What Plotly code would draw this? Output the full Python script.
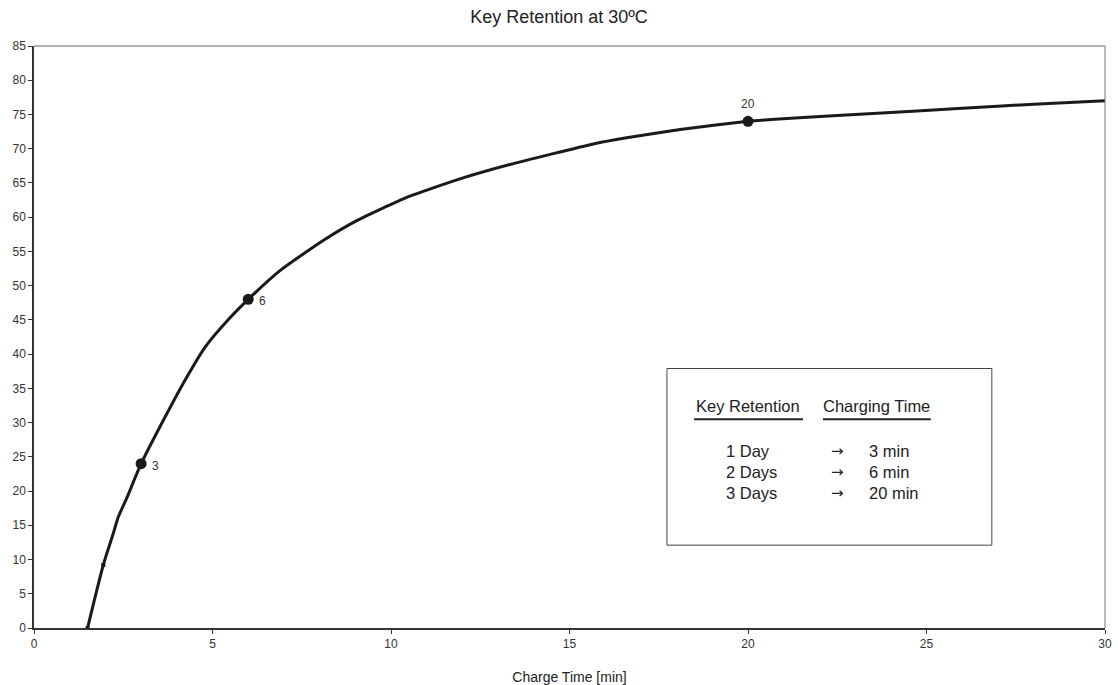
import plotly.graph_objects as go

# Curve data
charge_time = [1.5, 1.94, 2.22, 2.36, 2.6, 3.0, 3.72, 4.23, 4.79, 5.49, 6.0, 6.89, 8.1, 9.04, 10.44, 11.93, 13.33, 15.67, 16.6, 18.1, 20.0, 20.75, 23.0, 26.0, 28.0, 30.0]
retention = [0, 9.2, 13.8, 16.2, 19.0, 24, 31.3, 36.2, 41.0, 45.3, 48, 52.2, 56.6, 59.5, 62.9, 65.6, 67.7, 70.7, 71.6, 72.8, 74, 74.3, 75, 75.9, 76.5, 77]

marker_x = [3, 6, 20]
marker_y = [24, 48, 74]
marker_labels = ["3", "6", "20"]

small_x = [1.5, 1.94]
small_y = [0, 9.2]

x_ticks = [0, 5, 10, 15, 20, 25, 30]
y_ticks = list(range(0, 90, 5))

title_text = "Key Retention at 30ºC"
x_title = "Charge Time [min]"

box_headers = ["Key Retention", "Charging Time"]
box_rows = [("1 Day", "→", "3 min"), ("2 Days", "→", "6 min"), ("3 Days", "→", "20 min")]

font_family = "Liberation Sans, Arial, sans-serif"
arrow_font = "DejaVu Sans, sans-serif"

fig = go.Figure()
fig.add_trace(go.Scatter(x=charge_time, y=retention, mode="lines",
                         line=dict(color="#1a1a1a", width=3, shape="spline", smoothing=0.5),
                         hoverinfo="skip", showlegend=False))
fig.add_trace(go.Scatter(x=small_x, y=small_y, mode="markers",
                         marker=dict(color="#1a1a1a", size=4, symbol="square"),
                         showlegend=False, hoverinfo="skip"))
fig.add_trace(go.Scatter(x=marker_x, y=marker_y, mode="markers",
                         marker=dict(color="#1a1a1a", size=11),
                         showlegend=False))

# marker labels
lab_font = dict(size=12, color="#333", family=font_family)
fig.add_annotation(x=marker_x[0], y=marker_y[0], text=marker_labels[0], showarrow=False,
                   xanchor="left", yanchor="middle", xshift=9, yshift=-2, font=lab_font)
fig.add_annotation(x=marker_x[1], y=marker_y[1], text=marker_labels[1], showarrow=False,
                   xanchor="left", yanchor="middle", xshift=9, yshift=-2, font=lab_font)
fig.add_annotation(x=marker_x[2], y=marker_y[2], text=marker_labels[2], showarrow=False,
                   xanchor="center", yanchor="bottom", yshift=8, font=lab_font)

# info box
fig.add_shape(type="rect", xref="x", yref="y", x0=17.73, x1=26.83, y0=12.1, y1=37.9,
              line=dict(color="#444", width=1), fillcolor="white", layer="above")

box_font = dict(size=16.5, color="#222", family=font_family)
hdr_y = 32.4
fig.add_annotation(x=20.0, y=hdr_y, xref="x", yref="y", text=box_headers[0], showarrow=False,
                   xanchor="center", font=box_font)
fig.add_annotation(x=23.6, y=hdr_y, xref="x", yref="y", text=box_headers[1], showarrow=False,
                   xanchor="center", font=box_font)
fig.add_shape(type="line", xref="x", yref="y", x0=18.49, x1=21.54, y0=30.5, y1=30.5,
              line=dict(color="#222", width=2), layer="above")
fig.add_shape(type="line", xref="x", yref="y", x0=22.1, x1=25.12, y0=30.5, y1=30.5,
              line=dict(color="#222", width=2), layer="above")

row_ys = [25.9, 22.8, 19.7]
for (a, b, c), ry in zip(box_rows, row_ys):
    fig.add_annotation(x=19.33, y=ry, xref="x", yref="y", text=a, showarrow=False,
                       xanchor="left", font=box_font)
    fig.add_annotation(x=22.5, y=ry, xref="x", yref="y", text=b, showarrow=False,
                       xanchor="center", font=dict(size=15, color="#222", family=arrow_font))
    fig.add_annotation(x=23.33, y=ry, xref="x", yref="y", text=c, showarrow=False,
                       xanchor="left", font=box_font)

fig.update_layout(
    width=1118, height=685,
    margin=dict(l=34, r=13, t=46, b=57),
    paper_bgcolor="white", plot_bgcolor="white",
    title=dict(text=title_text, x=0.5, xanchor="center", y=0.985, yanchor="top",
               font=dict(size=18, color="#222", family=font_family)),
    font=dict(family=font_family, size=12, color="#333"),
    showlegend=False,
)
fig.update_xaxes(range=[0, 30], tickvals=x_ticks, ticks="outside", ticklen=4, tickcolor="#333",
                 showgrid=False, zeroline=False, showline=True, linecolor="#333", linewidth=1.5,
                 automargin=False,
                 title=dict(text=x_title, font=dict(size=14, color="#222"), standoff=22),
                 tickfont=dict(size=12, color="#333"))
fig.update_yaxes(range=[0, 85], tickvals=y_ticks, ticks="outside", ticklen=4, tickcolor="#333",
                 showgrid=False, zeroline=False, showline=True, linecolor="#333", linewidth=1.5,
                 automargin=False, tickfont=dict(size=12, color="#333"))
# frame top/right
fig.add_shape(type="line", xref="paper", yref="paper", x0=0, x1=1, y0=1, y1=1,
              line=dict(color="#666", width=1.2))
fig.add_shape(type="line", xref="paper", yref="paper", x0=1, x1=1, y0=0, y1=1,
              line=dict(color="#777", width=1))

fig.write_html("out.html", config={"displayModeBar": False},
               post_script="document.body.style.margin='0';document.body.style.overflow='hidden';")
